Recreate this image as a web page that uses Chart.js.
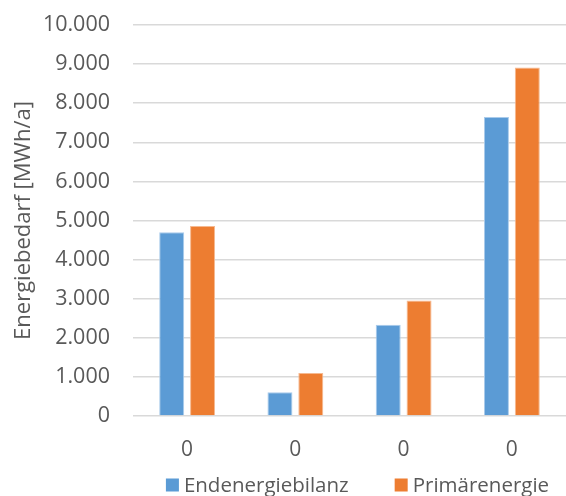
<!DOCTYPE html>
<html>
<head>
<meta charset="utf-8">
<script src="https://cdn.jsdelivr.net/npm/chart.js@4.4.1/dist/chart.umd.min.js"></script>
<style>
  html, body { margin: 0; padding: 0; background: #ffffff; }
  #wrap { width: 566px; height: 496px; }
</style>
</head>
<body>
<div id="wrap"><canvas id="c" width="566" height="496"></canvas></div>
<script>
// Category labels along the x axis
const categories = ["0", "0", "0", "0"];
// Energy demand per category, MWh/a
const endenergiebilanz = [4700, 610, 2335, 7650];
const primaerenergie = [4860, 1100, 2955, 8910];
// Series names
const seriesNames = ["Endenergiebilanz", "Primärenergie"];
// Value axis range
const yMin = 0;
const yMax = 10000;
const yStep = 1000;

const textColor = "#595959";
const fontFamily = "'Open Sans', sans-serif";

// German thousands separator
function formatDe(v) {
  return String(Math.round(v)).replace(/\B(?=(\d{3})+(?!\d))/g, ".");
}

// Compact bottom legend: small square, tight text gap, wide gap between entries
const bottomLegend = {
  id: "bottomLegend",
  afterDraw(chart) {
    const ctx = chart.ctx;
    const area = chart.chartArea;
    const box = 13, textGap = 5, itemGap = 46;
    ctx.save();
    ctx.font = "20.5px " + fontFamily;
    ctx.textBaseline = "middle";
    ctx.textAlign = "left";
    const items = chart.data.datasets.map(ds => ({
      text: ds.label,
      color: ds.backgroundColor,
      w: box + textGap + ctx.measureText(ds.label).width
    }));
    const total = items.reduce((s, it) => s + it.w, 0) + itemGap * (items.length - 1);
    let x = (area.left + area.right) / 2 + 8 - total / 2;
    const y = chart.height - 11;
    items.forEach(it => {
      ctx.fillStyle = it.color;
      ctx.fillRect(x, y - box / 2, box, box);
      ctx.fillStyle = textColor;
      ctx.fillText(it.text, x + box + textGap, y + 1);
      x += it.w + itemGap;
    });
    ctx.restore();
  }
};

new Chart(document.getElementById("c"), {
  type: "bar",
  data: {
    labels: categories,
    datasets: [
      {
        label: seriesNames[0],
        data: endenergiebilanz,
        backgroundColor: "#5B9BD5",
        borderColor: "#A9CBEB",
        borderWidth: 1,
        barPercentage: 0.81,
        categoryPercentage: 0.57
      },
      {
        label: seriesNames[1],
        data: primaerenergie,
        backgroundColor: "#ED7D31",
        borderColor: "#F6B990",
        borderWidth: 1,
        barPercentage: 0.81,
        categoryPercentage: 0.57
      }
    ]
  },
  plugins: [bottomLegend],
  options: {
    responsive: false,
    animation: false,
    layout: { padding: { top: 0, left: 11, right: 0, bottom: 34 } },
    plugins: {
      tooltip: { enabled: false },
      legend: { display: false }
    },
    scales: {
      x: {
        afterFit: (scale) => { scale.height = 46; },
        grid: { display: false, drawTicks: false },
        border: { display: false },
        ticks: {
          color: textColor,
          padding: 21,
          autoSkip: false,
          maxRotation: 0,
          font: { family: fontFamily, size: 21 }
        }
      },
      y: {
        min: yMin,
        max: yMax,
        afterFit: (scale) => {
          scale.width = 122;
          scale.paddingTop = 25;
          scale.paddingBottom = 0;
        },
        grid: { color: "#D9D9D9", lineWidth: 1.5, drawTicks: false },
        border: { display: false },
        ticks: {
          stepSize: yStep,
          color: textColor,
          padding: 23,
          font: { family: fontFamily, size: 21.5 },
          callback: (v) => formatDe(v)
        },
        title: {
          display: true,
          text: "Energiebedarf [MWh/a]",
          color: textColor,
          padding: { top: 0, bottom: 0 },
          font: { family: fontFamily, size: 22 }
        }
      }
    }
  }
});
</script>
</body>
</html>
